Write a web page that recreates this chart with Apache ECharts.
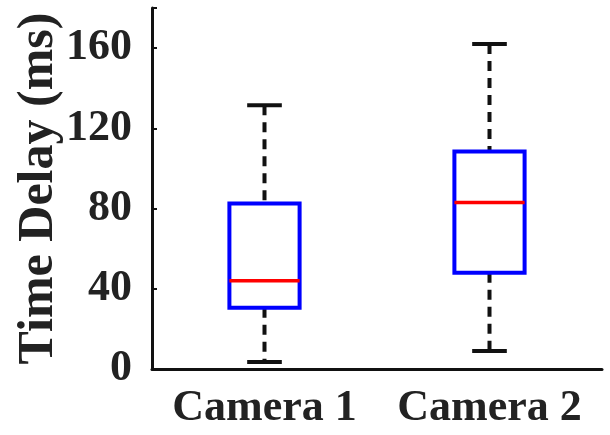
<!DOCTYPE html>
<html>
<head>
<meta charset="utf-8">
<script src="https://cdn.jsdelivr.net/npm/echarts@6/dist/echarts.min.js"></script>
<style>html,body{margin:0;padding:0;background:#fff}#c{width:610px;height:435px}</style>
</head>
<body>
<div id="c"></div>
<script>
const categories = ['Camera 1', 'Camera 2'];
const whiskerLow = [3.5, 9];
const q1 = [30.5, 48];
const median = [44, 83];
const q3 = [82.5, 108.5];
const whiskerHigh = [131.5, 162];
const yTicks = [0, 40, 80, 120, 160];

const data = categories.map((c, i) => [i, whiskerLow[i], q1[i], median[i], q3[i], whiskerHigh[i]]);
const font = 'Liberation Serif';

const chart = echarts.init(document.getElementById('c'));
chart.setOption({
  animation: false,
  grid: { left: 152, right: 8, top: 8, bottom: 66 },
  xAxis: {
    type: 'category',
    data: categories,
    boundaryGap: true,
    axisLine: { lineStyle: { color: '#111', width: 3 } },
    axisTick: { show: false },
    axisLabel: { interval: 0, hideOverlap: false, fontFamily: font, fontWeight: 'bold', fontSize: 44, color: '#222', margin: 18 }
  },
  yAxis: {
    type: 'value',
    min: 0, max: 180, interval: 40,
    name: 'Time Delay (ms)',
    nameLocation: 'middle',
    nameRotate: 90,
    nameGap: 88,
    nameMoveOverlap: false,
    nameTextStyle: { fontFamily: font, fontWeight: 'bold', fontSize: 50, color: '#222' },
    axisLine: { show: true, lineStyle: { color: '#111', width: 3 } },
    axisTick: { show: true, inside: true, length: 5, lineStyle: { color: '#111', width: 2 } },
    splitLine: { show: false },
    axisLabel: {
      fontFamily: font, fontWeight: 'bold', fontSize: 44, color: '#222', margin: 20,
      formatter: v => yTicks.includes(v) ? String(v) : ''
    }
  },
  series: [{
    type: 'custom',
    data: data,
    encode: { x: 0, y: [1, 2, 3, 4, 5] },
    renderItem: function (params, api) {
      const idx = api.value(0);
      const x = api.coord([idx, 0])[0];
      const band = api.size([1, 0])[0];
      const hw = band * 0.156;
      const cw = band * 0.077;
      const yLo = api.coord([idx, api.value(1)])[1];
      const yQ1 = api.coord([idx, api.value(2)])[1];
      const yMed = api.coord([idx, api.value(3)])[1];
      const yQ3 = api.coord([idx, api.value(4)])[1];
      const yHi = api.coord([idx, api.value(5)])[1];
      const black = { stroke: '#111', lineWidth: 4 };
      const dashed = { stroke: '#111', lineWidth: 4, lineDash: [10, 7] };
      return {
        type: 'group',
        children: [
          { type: 'line', shape: { x1: x, y1: yHi, x2: x, y2: yQ3 }, style: dashed },
          { type: 'line', shape: { x1: x, y1: yQ1, x2: x, y2: yLo }, style: dashed },
          { type: 'line', shape: { x1: x - cw, y1: yHi, x2: x + cw, y2: yHi }, style: black },
          { type: 'line', shape: { x1: x - cw, y1: yLo, x2: x + cw, y2: yLo }, style: black },
          { type: 'rect', shape: { x: x - hw, y: yQ3, width: hw * 2, height: yQ1 - yQ3 },
            style: { fill: '#fff', stroke: '#0000ff', lineWidth: 4 } },
          { type: 'line', shape: { x1: x - hw, y1: yMed, x2: x + hw, y2: yMed },
            style: { stroke: '#ff0000', lineWidth: 3.5 } }
        ]
      };
    }
  }]
});
</script>
</body>
</html>
